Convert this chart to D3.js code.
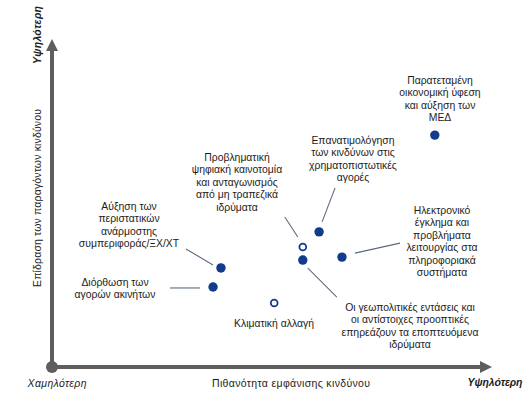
<!DOCTYPE html>
<html>
<head>
<meta charset="utf-8">
<script src="https://cdn.jsdelivr.net/npm/d3@7"></script>
<style>
  html, body { margin: 0; padding: 0; background: #fff; }
  svg { display: block; }
</style>
</head>
<body>
<div id="chart"></div>
<script>
// data: likelihood (x) and impact (y) on a 0-10 scale
const risks = [
  ['Παρατεταμένη', 'οικονομική ύφεση', 'και αύξηση των', 'ΜΕΔ'],
  ['Επανατιμολόγηση', 'των κινδύνων στις', 'χρηματοπιστωτικές', 'αγορές'],
  ['Προβληματική', 'ψηφιακή καινοτομία', 'και ανταγωνισμός', 'από μη τραπεζικά', 'ιδρύματα'],
  ['Οι γεωπολιτικές εντάσεις και', 'οι αντίστοιχες προοπτικές', 'επηρεάζουν τα εποπτευόμενα', 'ιδρύματα'],
  ['Ηλεκτρονικό', 'έγκλημα και', 'προβλήματα', 'λειτουργίας στα', 'πληροφοριακά', 'συστήματα'],
  ['Κλιματική αλλαγή'],
  ['Αύξηση των', 'περιστατικών', 'ανάρμοστης', 'συμπεριφοράς/ΞΧ/ΧΤ'],
  ['Διόρθωση των', 'αγορών ακινήτων']
];
const likelihood = [8.70, 6.07, 5.70, 5.70, 6.59, 5.05, 3.84, 3.66];
const impact = [7.07, 4.12, 3.66, 3.26, 3.35, 1.95, 3.02, 2.44];
const emerging = [false, false, true, false, false, true, false, false];

const xTitle = 'Πιθανότητα εμφάνισης κινδύνου';
const yTitle = 'Επίδραση των παραγόντων κινδύνου';
const lowLabel = 'Χαμηλότερη';
const highLabel = 'Υψηλότερη';

// layout: label anchor (centre x, first line y) and leader offsets from the dot
const labelAt = [[440, 80], [353, 140], [237, 157], [410, 307], [442, 210], [274, 323], [129, 206], [115, 282]];
const leaders = [null, [16, -44, 3, -10], [-18, -30, -5, -10], [5, 8, 34, 37], [13, -4, 58, -14], null, [-35, -19, -8, -3], [-43, 1, -13, 1]];

const width = 530, height = 398;
const axisColor = '#5e5e5e', dotColor = '#123b8c', textColor = '#1c1c1c';
const font = '"Liberation Sans", Arial, sans-serif';
const lineH = 12.5;

const x = d3.scaleLinear().domain([0, 10]).range([52, 492]);
const y = d3.scaleLinear().domain([0, 10]).range([367, 39]);

const svg = d3.select('#chart').append('svg')
    .attr('width', width)
    .attr('height', height)
    .attr('font-family', font)
    .attr('font-size', 10.4)
    .attr('fill', textColor);

// axes with arrow heads
const ax = svg.append('g');
ax.append('line')
    .attr('x1', x(0)).attr('y1', y(0)).attr('x2', x(0)).attr('y2', y(10) + 10)
    .attr('stroke', axisColor).attr('stroke-width', 4);
ax.append('line')
    .attr('x1', x(0)).attr('y1', y(0)).attr('x2', x(10) - 10).attr('y2', y(0))
    .attr('stroke', axisColor).attr('stroke-width', 4);
ax.append('path')
    .attr('d', `M${x(0)},${y(10)}L${x(0) - 6},${y(10) + 12}L${x(0) + 6},${y(10) + 12}Z`)
    .attr('fill', axisColor);
ax.append('path')
    .attr('d', `M${x(10)},${y(0)}L${x(10) - 12},${y(0) - 6}L${x(10) - 12},${y(0) + 6}Z`)
    .attr('fill', axisColor);
ax.append('circle')
    .attr('cx', x(0)).attr('cy', y(0)).attr('r', 6)
    .attr('fill', axisColor);

// axis titles (stretched to the widths seen in the picture)
const title = (tx, ty, rot, txt, len, italic, bold) => {
  svg.append('text')
      .attr('transform', `translate(${tx},${ty}) rotate(${rot})`)
      .attr('text-anchor', 'middle')
      .attr('font-size', 10.5)
      .attr('font-style', italic ? 'italic' : null)
      .attr('font-weight', bold ? 'bold' : null)
      .attr('textLength', len)
      .attr('lengthAdjust', 'spacing')
      .text(txt);
};
title(291, 387, 0, xTitle, 158, false, false);
title(57, 387, 0, lowLabel, 59, true, false);
title(495, 386, 0, highLabel, 55, true, true);
title(41, 198, -90, yTitle, 178, false, false);
title(41, 35, -90, highLabel, 58, true, true);

// leader lines
svg.append('g')
    .selectAll('line')
    .data(risks.map((_, i) => i).filter((i) => leaders[i]))
    .join('line')
    .attr('x1', (i) => x(likelihood[i]) + leaders[i][0])
    .attr('y1', (i) => y(impact[i]) + leaders[i][1])
    .attr('x2', (i) => x(likelihood[i]) + leaders[i][2])
    .attr('y2', (i) => y(impact[i]) + leaders[i][3])
    .attr('stroke', '#5c6b7e')
    .attr('stroke-width', 1.1);

// dots
svg.append('g')
    .selectAll('circle')
    .data(risks.map((_, i) => i))
    .join('circle')
    .attr('cx', (i) => x(likelihood[i]))
    .attr('cy', (i) => y(impact[i]))
    .attr('r', (i) => emerging[i] ? 3.4 : 4.7)
    .attr('fill', (i) => emerging[i] ? '#fff' : dotColor)
    .attr('stroke', dotColor)
    .attr('stroke-width', (i) => emerging[i] ? 1.8 : 0);

// labels
const labels = svg.append('g')
    .selectAll('text')
    .data(risks)
    .join('text')
    .attr('text-anchor', 'middle')
    .attr('x', (d, i) => labelAt[i][0])
    .attr('y', (d, i) => labelAt[i][1]);
labels.selectAll('tspan')
    .data((d, i) => d.map((line) => ({line, i})))
    .join('tspan')
    .attr('x', (d) => labelAt[d.i][0])
    .attr('y', (d, j) => labelAt[d.i][1] + j * lineH)
    .attr('dy', '0.35em')
    .text((d) => d.line);
</script>
</body>
</html>
